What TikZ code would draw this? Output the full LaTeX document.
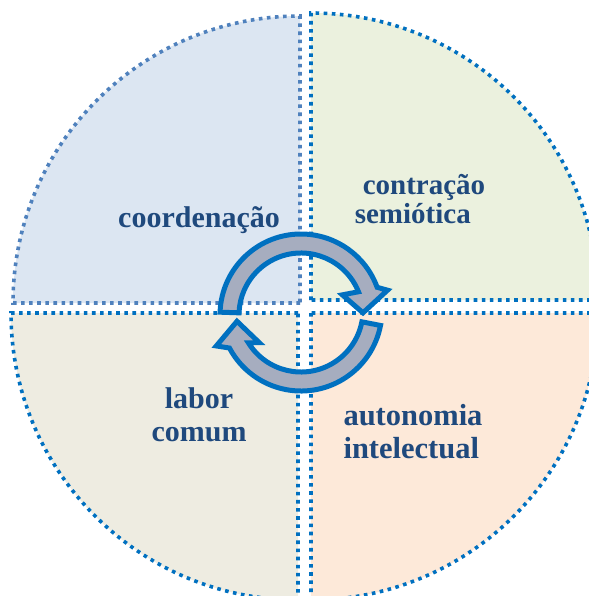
\documentclass[tikz,border=0pt]{standalone}
\usepackage{fontspec}
\setmainfont{Liberation Serif}
\usetikzlibrary{positioning}
\definecolor{dotblue}{HTML}{0070C0}
\definecolor{dotpale}{HTML}{4F81BD}
\definecolor{labelblue}{HTML}{1F497D}
\definecolor{qblue}{HTML}{DCE6F2}
\definecolor{qgreen}{HTML}{EBF1DE}
\definecolor{qsand}{HTML}{EEECE1}
\definecolor{qpeach}{HTML}{FDE9D9}
\definecolor{cyclegray}{HTML}{A6ADBF}
\begin{document}
\begin{tikzpicture}[x=1pt,y=1pt,
  quarter/.style={draw=dotblue,line width=3.6pt,dash pattern=on 3.6pt off 4.5pt},
  lbl/.style={text=labelblue,font=\fontsize{30}{33}\selectfont\bfseries,align=left,inner sep=0pt},
  cyc/.style={draw=dotblue,fill=cyclegray,line width=5pt,line join=miter}]
\useasboundingbox (0,0) rectangle (588,-596);
\path[quarter,fill=qblue,draw=dotpale] (300,-303) -- ++(180:287) arc[start angle=180,end angle=90,radius=287] -- cycle;
\path[quarter,fill=qgreen] (311,-300) -- ++(90:287) arc[start angle=90,end angle=0,radius=287] -- cycle;
\path[quarter,fill=qsand] (298,-313) -- ++(180:287) arc[start angle=180,end angle=270,radius=287] -- cycle;
\path[quarter,fill=qpeach] (311,-313) -- ++(270:287) arc[start angle=270,end angle=360,radius=287] -- cycle;
\node[lbl,anchor=base] (coord) at (199,-227) {coordenação};
\node[lbl,font=\fontsize{29}{33}\selectfont\bfseries] (semio) at (420,-199) {\hspace*{8pt}contração\\[-4pt]semiótica};
\node[lbl,align=center] (labor) at (199,-415) {labor\\comum};
\node[lbl,font=\fontsize{30.5}{33}\selectfont\bfseries] (auton) at (413,-431.5) {autonomia\\intelectual};
\begin{scope}[shift={(301,-315)}]
\path[cyc] (178:81) arc[start angle=178,end angle=20,radius=81] -- (16:90) -- (2:62) -- (26:46) -- (22:62) arc[start angle=22,end angle=178,radius=62] -- cycle;
\end{scope}
\begin{scope}[shift={(301,-310)}]
\path[cyc] (-11:81) arc[start angle=-11,end angle=-152,radius=81] -- (203:92) -- (190:65) -- (218:53) -- (212:62) arc[start angle=-148,end angle=-11,radius=62] -- cycle;
\end{scope}
\end{tikzpicture}
\end{document}
